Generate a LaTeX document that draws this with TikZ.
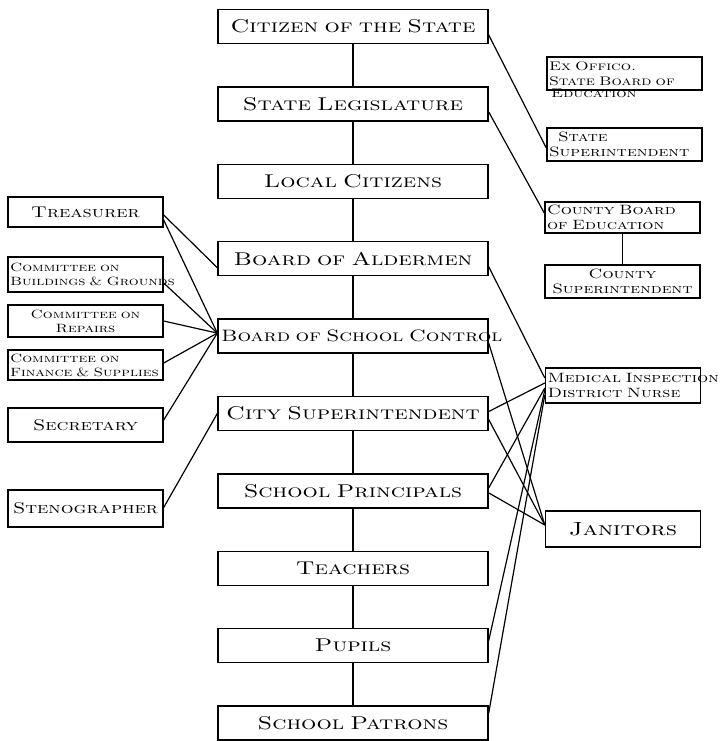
\documentclass[tikz,border=0pt]{standalone}
\usepackage{fontspec}
\newfontfamily\lettering{lmromancaps10-regular.otf}[FakeStretch=1.3]
\usetikzlibrary{positioning}

\begin{document}
\begin{tikzpicture}[
  x=1pt, y=-1pt,
  node distance=42pt,
  main/.style={draw, line width=1.4pt, minimum width=270pt, minimum height=34pt,
               inner sep=2pt, text width=264pt, align=center,
               font=\lettering\fontsize{18.5}{20}\selectfont},
  side/.style={draw, line width=1.4pt, minimum width=155pt, inner sep=2pt,
               font=\lettering\fontsize{15.5}{17}\selectfont},
  small/.style={draw, line width=1.4pt, inner sep=2pt, text width=151pt, align=left,
               font=\lettering\fontsize{12}{14}\selectfont},
  right/.style={small, font=\lettering\fontsize{13.5}{15}\selectfont},
  link/.style={line width=1.2pt}
]
\useasboundingbox (0,0) rectangle (720,741);

% central chain
\node[main] (cit) at (353,26.5) {Citizen of the State};
\node[main, below=of cit] (leg) {State Legislature};
\node[main, below=of leg] (loc) {Local Citizens};
\node[main, below=of loc] (ald) {Board of Aldermen};
\node[main, below=of ald, font=\lettering\fontsize{16.5}{20}\selectfont]
  (bsc) {\mbox{Board of School Control}};
\node[main, below=of bsc] (csup) {City Superintendent};
\node[main, below=of csup] (prin) {School Principals};
\node[main, below=of prin] (tea) {Teachers};
\node[main, below=of tea] (pup) {Pupils};
\node[main, below=of pup] (pat) {School Patrons};

% left column
\node[side, minimum height=30pt] (tre) at (85.5,212) {Treasurer};
\node[small, minimum height=35pt] (bg) at (85.5,274.5) {Committee on\\\mbox{Buildings \& Grounds}};
\node[small, minimum height=32pt, align=center] (rep) at (85.5,321) {Committee on\\Repairs};
\node[small, minimum height=30pt] (fin) at (85.5,365) {Committee on\\\mbox{Finance \& Supplies}};
\node[side, minimum height=34pt] (sec) at (85.5,425) {Secretary};
\node[side, minimum height=37pt] (ste) at (85.5,508.5) {Stenographer};

% right column
\node[right, font=\lettering\fontsize{12.5}{15}\selectfont, minimum height=33pt]
  (exo) at (624.5,73.5) {Ex Offico.\\State Board of};
\node[font=\lettering\fontsize{12.5}{15}\selectfont, anchor=north west, inner sep=0pt]
  (exoed) at (551,89) {Education};
\node[right, minimum height=33pt] (ssup) at (624.5,144.5) {\ \ State\\Superintendent};
\node[right, minimum height=31pt] (cbe) at (622.5,217.5) {County Board\\of Education};
\node[right, minimum height=33pt, align=center] (csu) at (622.5,281.5) {County\\Superintendent};
\node[right, minimum height=35pt]
  (med) at (623,385.5) {\mbox{Medical Inspection}\\District Nurse};
\node[side, font=\lettering\fontsize{19}{20}\selectfont, minimum height=36pt]
  (jan) at (623,529) {Janitors};

% vertical line of authority
\draw[link] (cit) -- (leg);
\draw[link] (leg) -- (loc);
\draw[link] (loc) -- (ald);
\draw[link] (ald) -- (bsc);
\draw[link] (bsc) -- (csup);
\draw[link] (csup) -- (prin);
\draw[link] (prin) -- (tea);
\draw[link] (tea) -- (pup);
\draw[link] (pup) -- (pat);
\draw[link] (cbe) -- (csu);

% state side
\draw[link] ([yshift=-8.5pt]cit.east) -- ([yshift=-3.5pt]ssup.west);
\draw[link] ([yshift=-8pt]leg.east) -- ([yshift=4.5pt]cbe.west);

% left officers
\draw[link] ([yshift=-3pt]tre.east) -- ([yshift=-9pt]ald.west);
\draw[link] ([yshift=-8pt]tre.east) -- ([yshift=3pt]bsc.west);
\draw[link] ([yshift=-8.5pt]bg.east) -- ([yshift=3pt]bsc.west);
\draw[link] (rep.east) -- ([yshift=3pt]bsc.west);
\draw[link] ([yshift=2pt]fin.east) -- ([yshift=3pt]bsc.west);
\draw[link] ([yshift=5pt]sec.east) -- ([yshift=3pt]bsc.west);
\draw[link] ([yshift=1pt]ste.east) -- (csup.west);

% medical inspection and janitors
\draw[link] ([yshift=-8pt]ald.east) -- ([yshift=7.5pt]med.west);
\draw[link] ([yshift=-7pt]bsc.east) -- ([yshift=4pt]jan.west);
\draw[link] ([yshift=2pt]csup.east) -- ([yshift=2.5pt]med.west);
\draw[link] ([yshift=-6pt]csup.east) -- ([yshift=4pt]jan.west);
\draw[link] ([yshift=3pt]prin.east) -- ([yshift=-2.5pt]med.west);
\draw[link] ([yshift=-2pt]prin.east) -- ([yshift=4pt]jan.west);
\draw[link] ([yshift=5pt]pup.east) -- ([yshift=-4.5pt]med.west);
\draw[link] ([yshift=10pt]pat.east) -- ([yshift=-9.5pt]med.west);
\end{tikzpicture}
\end{document}
